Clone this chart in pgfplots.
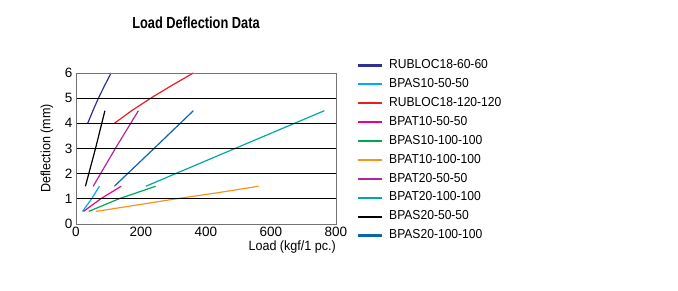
\documentclass[border=0pt]{standalone}
\usepackage{fontspec}
\setmainfont{Liberation Sans}
\newfontfamily\condfont[FakeStretch=0.93]{Liberation Sans}
\newfontfamily\titlefont[FakeStretch=0.8]{Liberation Sans}
\usepackage{pgfplots}
\pgfplotsset{compat=1.18}
\definecolor{cnavy}{HTML}{2E3192}
\definecolor{clblue}{HTML}{00AEEF}
\definecolor{cred}{HTML}{ED1C24}
\definecolor{cpink}{HTML}{EC008C}
\definecolor{cgreen}{HTML}{00A651}
\definecolor{corange}{HTML}{F7941D}
\definecolor{cpurple}{HTML}{B0279B}
\definecolor{cteal}{HTML}{00A99D}
\definecolor{cblue}{HTML}{0A64B4}
\begin{document}
\begin{tikzpicture}
\useasboundingbox (-76pt,-67pt) rectangle (602pt,224pt);
\begin{axis}[
  at={(0pt,0pt)}, anchor=south west,
  scale only axis, width=260pt, height=151pt,
  xmin=0, xmax=800, ymin=0, ymax=6,
  xtick={0,200,400,600,800}, ytick={0,1,2,3,4,5,6},
  ymajorgrids, major grid style={black, line width=0.8pt},
  axis line style={draw=gray!90!black, line width=0.8pt},
  axis on top,
  major tick length=0pt,
  tick label style={font=\fontsize{13.5}{15}\selectfont},
  /pgf/number format/assume math mode=true,
  xlabel={Load (kgf/1 pc.)},
  ylabel={Deflection (mm)},
  label style={font=\condfont\fontsize{13.5}{15}\selectfont},
  xlabel style={at={(rel axis cs:1,0)}, anchor=north east, yshift=-17pt, inner sep=0pt},
  ylabel style={at={(rel axis cs:0,0.5)}, anchor=center, yshift=29pt},
  legend cell align=left,
  legend style={at={(rel axis cs:1,1)}, anchor=north west, xshift=22pt, yshift=14pt,
    inner sep=0pt, row sep=6.4pt, column sep=7pt, draw=none, fill=none,
    font=\condfont\fontsize{13}{15}\selectfont,
    nodes={inner sep=0pt, text height=9.5pt, text depth=3pt}},
  every axis plot/.append style={line width=1.2pt},
  every axis plot post/.append style={
    legend image code/.code={\fill[##1, draw=none] (0pt,-1.1pt) rectangle (24pt,1.1pt);}},
]
\addplot[cnavy] coordinates {(36,4) (52,4.5) (69,5) (88,5.5) (108,6)};
\addlegendentry{RUBLOC18-60-60}
\addplot[clblue] coordinates {(20,0.5) (48,1) (72,1.5)};
\addlegendentry{BPAS10-50-50}
\addplot[cred] coordinates {(118,4) (171,4.5) (230,5) (294,5.5) (361,6)};
\addlegendentry{RUBLOC18-120-120}
\addplot[cpink] coordinates {(23,0.5) (76,1) (139,1.5)};
\addlegendentry{BPAT10-50-50}
\addplot[cgreen] coordinates {(39,0.5) (132,1) (245,1.5)};
\addlegendentry{BPAS10-100-100}
\addplot[corange] coordinates {(61,0.5) (190,0.76) (308,1) (440,1.25) (562,1.5)};
\addlegendentry{BPAT10-100-100}
\addplot[cpurple] coordinates {(53,1.5) (121,3) (192,4.5)};
\addlegendentry{BPAT20-50-50}
\addplot[cteal] coordinates {(215,1.5) (489,3) (764,4.5)};
\addlegendentry{BPAT20-100-100}
\addplot[black] coordinates {(29,1.5) (60,3) (89,4.5)};
\addlegendentry{BPAS20-50-50}
\addplot[cblue] coordinates {(118,1.5) (240,3) (361,4.5)};
\addlegendentry{BPAS20-100-100}
\end{axis}
\node[anchor=base, font=\titlefont\bfseries\fontsize{16}{18}\selectfont] at (120pt,195.7pt) {Load Deflection Data};
\end{tikzpicture}
\end{document}
